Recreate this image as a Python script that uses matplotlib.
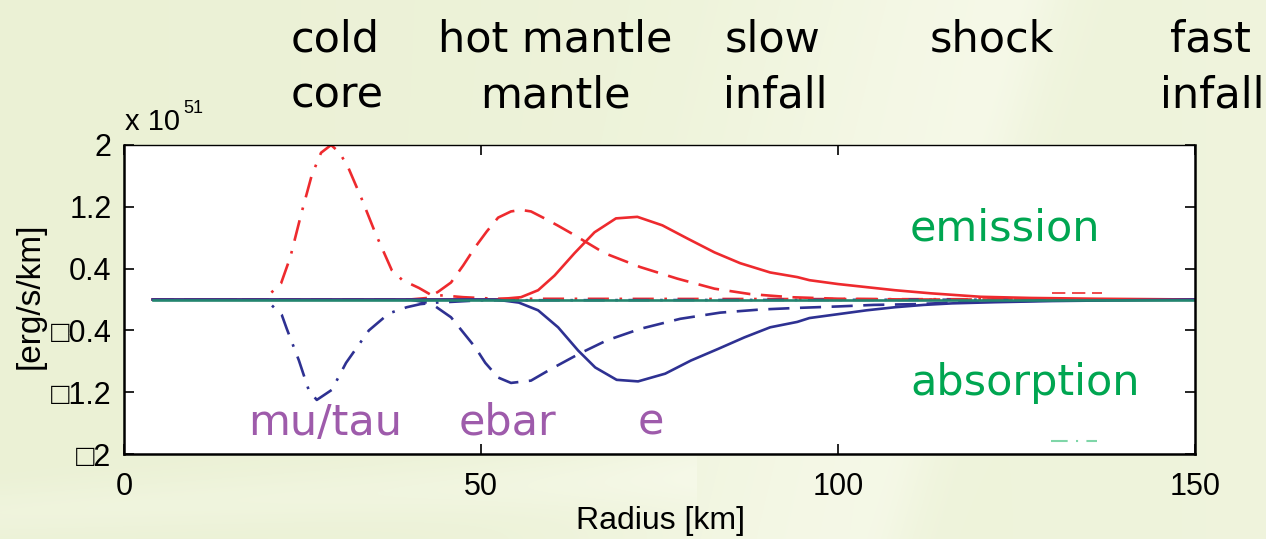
"""
Neutrino emission / absorption rates versus radius in a proto-neutron star
"""

import numpy as np
import matplotlib.pyplot as plt

# emission (positive) and absorption (negative) rates, units of 1e51 erg/s/km
r_mutau_em = [4, 19.5, 20.3, 22.0, 23.3, 24.8, 26.3, 27.6, 29.0, 30.2, 31.4, 33.3, 35.2, 37.5, 39.0, 41.3, 43.0, 45.0, 47.5, 52, 150]
l_mutau_em = [0, 0, 0.06, 0.21, 0.55, 1.10, 1.61, 1.90, 2.00, 1.90, 1.71, 1.30, 0.86, 0.38, 0.25, 0.15, 0.06, 0.05, 0.03, 0.01, 0]

r_mutau_ab = [4, 19.5, 20.3, 22.1, 22.8, 24.5, 25.9, 27.0, 29.1, 31.1, 34.3, 37.1, 39.6, 41.5, 43.7, 46, 50, 150]
l_mutau_ab = [0, 0, -0.04, -0.20, -0.38, -0.79, -1.18, -1.30, -1.17, -0.82, -0.40, -0.18, -0.10, -0.06, -0.04, -0.03, -0.01, 0]

r_ebar_em = [4, 40, 42.5, 44, 45.8, 47.5, 49.2, 50.8, 52.4, 54.2, 55.6, 57.0, 58.9, 60.7, 62.6, 67.3, 72.3, 77.5, 82.7, 87.7, 93.3, 100, 110, 150]
l_ebar_em = [0, 0, 0.02, 0.10, 0.22, 0.44, 0.68, 0.88, 1.06, 1.14, 1.16, 1.14, 1.05, 0.96, 0.86, 0.60, 0.42, 0.27, 0.14, 0.07, 0.03, 0.01, 0, 0]

r_ebar_ab = [4, 40, 43, 45.8, 49.2, 50.6, 52.4, 54.2, 57.0, 59.8, 63.8, 67.6, 72.3, 77.9, 83.5, 89.1, 94, 100, 105, 111, 116, 125, 135, 150]
l_ebar_ab = [0, 0, -0.05, -0.23, -0.62, -0.82, -1.01, -1.08, -1.05, -0.90, -0.70, -0.53, -0.38, -0.25, -0.17, -0.13, -0.11, -0.09, -0.07, -0.06, -0.04, -0.02, -0.005, 0]

r_e_em = [4, 52, 55.6, 58.0, 60.3, 63.1, 65.9, 68.9, 71.9, 75.4, 78.9, 82.7, 86.3, 90.5, 94.3, 96, 100, 104, 108, 113, 120, 127, 136, 150]
l_e_em = [0, 0, 0.03, 0.12, 0.31, 0.60, 0.87, 1.05, 1.07, 0.96, 0.79, 0.61, 0.47, 0.35, 0.29, 0.25, 0.20, 0.16, 0.12, 0.08, 0.035, 0.02, 0.01, 0]

r_e_ab = [4, 52, 55.3, 58.0, 60.8, 63.6, 66.0, 69.0, 72.0, 75.8, 79.4, 83.2, 86.9, 90.5, 94.3, 96, 100, 104, 108, 112, 116, 122, 130, 140, 150]
l_e_ab = [0, 0, -0.04, -0.14, -0.36, -0.66, -0.88, -1.04, -1.06, -0.96, -0.79, -0.64, -0.49, -0.36, -0.29, -0.24, -0.19, -0.14, -0.10, -0.07, -0.05, -0.035, -0.02, -0.01, 0]

# flat heavy-lepton pair term and two leftover line pieces
r_flat = [4, 150]
l_flat = [0, 0]
r_stub_red = [130, 137]
l_stub_red = [0.08, 0.08]
r_stub_green = [129.8, 136.3]
l_stub_green = [-1.83, -1.83]

xticks = [0, 50, 100, 150]
yticks = [-2, -1.2, -0.4, 0.4, 1.2, 2]
ytick_labels = ['\u25a12', '\u25a11.2', '\u25a10.4', '0.4', '1.2', '2']

RED = '#ee2a2e'
BLUE = '#2e3192'
TEAL = '#23856f'
GREEN = '#00a651'
PURPLE = '#9e5bab'

DASH = (0, (8, 4))
DASHDOT = (0, (8, 4, 1, 4))

W, H = 1266, 539
fig = plt.figure(figsize=(W / 100, H / 100), dpi=100)

# pale green slide background with soft light bands
bg = fig.add_axes([0, 0, 1, 1], zorder=-10)
yy, xx = np.mgrid[0:H, 0:W]
xx = xx / W
yy = yy / H
base = np.array([235, 241, 213]) / 255
light = np.array([249, 251, 238]) / 255
t = xx - (0.80 - 0.12 * yy)
glow = np.where(t < 0, np.exp(-(t / 0.20) ** 2), np.exp(-(t / 0.04) ** 2)) * 0.5
glow += np.exp(-((yy - 0.95 + 0.12 * xx) / 0.05) ** 2) * 0.3 * (xx < 0.55)
glow += 0.3 * xx
glow = np.clip(glow, 0, 1)[..., None]
img = base * (1 - glow) + light * glow
bg.imshow(img, aspect='auto', extent=[0, 1, 0, 1])
bg.axis('off')

ax = fig.add_axes([124 / W, 1 - 454 / H, (1195 - 124) / W, (454 - 145) / H])
ax.set_facecolor('white')

lw = 1.9
ax.plot(r_mutau_em, l_mutau_em, color=RED, ls=DASHDOT, lw=lw)
ax.plot(r_mutau_ab, l_mutau_ab, color=BLUE, ls=DASHDOT, lw=lw)
ax.plot(r_ebar_em, l_ebar_em, color=RED, ls=DASH, lw=lw)
ax.plot(r_ebar_ab, l_ebar_ab, color=BLUE, ls=DASH, lw=lw)
ax.plot(r_e_em, l_e_em, color=RED, ls='-', lw=lw)
ax.plot(r_e_ab, l_e_ab, color=BLUE, ls='-', lw=lw)
ax.plot(r_flat, l_flat, color=TEAL, ls='-', lw=lw)
ax.plot(r_stub_red, l_stub_red, color=RED, ls=DASH, lw=1.2)
ax.plot(r_stub_green, l_stub_green, color='#7fd6a8', ls=DASHDOT, lw=1.5)

ax.set_xlim(0, 150)
ax.set_ylim(-2, 2)
ax.set_xticks(xticks)
ax.set_yticks(yticks)
ax.set_yticklabels(ytick_labels)
tick_font = ['Liberation Sans', 'DejaVu Sans']
for lab in ax.get_xticklabels() + ax.get_yticklabels():
    lab.set_family(tick_font)
    lab.set_fontsize(22)
ax.tick_params(axis='both', direction='in', length=7, width=1.2,
               top=True, right=True, colors='black')
ax.tick_params(axis='x', pad=13)
ax.tick_params(axis='y', pad=9)
for sp in ax.spines.values():
    sp.set_linewidth(1.8)
ax.spines['top'].set_linewidth(1.0)

fig.text(660 / W, 1 - 521 / H, 'Radius [km]', family=tick_font, fontsize=23,
         ha='center', va='center')
fig.text(30 / W, 1 - 296 / H, '[erg/s/km]', family=tick_font, fontsize=24,
         rotation=90, ha='center', va='center')
fig.text(125 / W, 1 - 130 / H, 'x 10', family=tick_font, fontsize=21,
         ha='left', va='baseline')
fig.text(183 / W, 1 - 113 / H, '51', family=tick_font, fontsize=13,
         ha='left', va='baseline')

# region names along the top
region_font = 'DejaVu Sans'
regions_top = [('cold', 335), ('hot mantle', 555), ('slow', 773), ('shock', 992), ('fast', 1210)]
regions_bottom = [('core', 337), ('mantle', 555), ('infall', 775), ('infall', 1212)]
for name, xc in regions_top:
    fig.text(xc / W, 1 - 52 / H, name, family=region_font, fontsize=31,
             ha='center', va='baseline')
for name, xc in regions_bottom:
    fig.text(xc / W, 1 - 107 / H, name, family=region_font, fontsize=31,
             ha='center', va='baseline')

ax.text(110.1, 0.77, 'emission', color=GREEN, family=region_font, fontsize=31,
        ha='left', va='baseline')
ax.text(110.1, -1.236, 'absorption', color=GREEN, family=region_font, fontsize=31,
        ha='left', va='baseline')
ax.text(17.4, -1.754, 'mu/tau', color=PURPLE, family=region_font, fontsize=31,
        ha='left', va='baseline')
ax.text(46.8, -1.754, 'ebar', color=PURPLE, family=region_font, fontsize=31,
        ha='left', va='baseline')
ax.text(72.0, -1.754, 'e', color=PURPLE, family=region_font, fontsize=31,
        ha='left', va='baseline')

fig.savefig('out.png', dpi=100)
